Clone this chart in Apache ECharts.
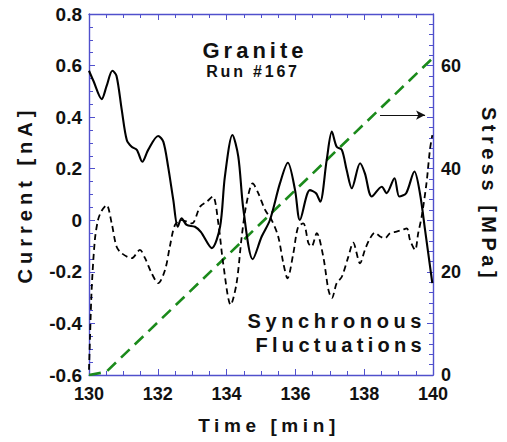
<!DOCTYPE html>
<html>
<head>
<meta charset="utf-8">
<title>Granite Run #167</title>
<script src="https://cdn.jsdelivr.net/npm/echarts@6.0.0/dist/echarts.min.js"></script>
<style>
  html, body { margin: 0; padding: 0; background: #fff; }
  #chart { width: 507px; height: 442px; }
</style>
</head>
<body>
<div id="chart"></div>
<script>
// Current record (solid), its mirrored fluctuation trace (dashed) and the stress ramp (green)

const solidTime = [130.0, 130.13, 130.37, 130.51, 130.68, 130.8, 130.95, 131.1, 131.24, 131.39,
  131.55, 131.72, 132.01, 132.16, 132.3, 132.45, 132.58, 132.69, 132.84, 133.08,
  133.25, 133.57, 133.81, 133.95, 134.17, 134.34, 134.49, 134.76, 135.02, 135.26,
  135.55, 135.78, 135.99, 136.13, 136.42, 136.6, 136.72, 136.91, 137.06, 137.2,
  137.35, 137.49, 137.64, 137.88, 138.02, 138.22, 138.51, 138.65, 138.88, 139.02,
  139.22, 139.46, 139.62, 139.77, 139.98];
const solidCurrent = [0.58, 0.54, 0.47, 0.52, 0.58, 0.56, 0.43, 0.31, 0.285, 0.273,
  0.227, 0.273, 0.327, 0.305, 0.208, 0.079, -0.025, 0.008, -0.018, -0.025,
  -0.045, -0.108, -0.025, 0.169, 0.331, 0.247, 0.04, -0.151, -0.063, 0.001,
  0.143, 0.223, 0.117, 0.001, 0.117, 0.105, 0.072, 0.234, 0.344, 0.285,
  0.273, 0.195, 0.124, 0.221, 0.182, 0.092, 0.13, 0.105, 0.163, 0.092,
  0.105, 0.189, 0.105, -0.038, -0.244];

const dashTime = [130.0, 130.03, 130.08, 130.17, 130.26, 130.36, 130.51, 130.66, 130.8, 130.95,
  131.24, 131.48, 131.63, 131.82, 132.01, 132.21, 132.35, 132.5, 132.69, 132.99,
  133.23, 133.42, 133.6, 133.76, 133.9, 134.12, 134.29, 134.44, 134.58, 134.76,
  134.92, 135.12, 135.31, 135.5, 135.65, 135.77, 135.94, 136.08, 136.23, 136.38,
  136.47, 136.62, 136.81, 136.96, 137.06, 137.2, 137.35, 137.54, 137.68, 137.88,
  138.02, 138.17, 138.31, 138.46, 138.6, 138.75, 138.94, 139.09, 139.24, 139.33,
  139.48, 139.57, 139.67, 139.81, 139.91, 139.98];
const dashCurrent = [-0.58, -0.45, -0.26, -0.077, 0.0, 0.035, 0.059, -0.012, -0.102, -0.128,
  -0.147, -0.115, -0.147, -0.205, -0.244, -0.193, -0.102, -0.018, 0.001, -0.012,
  0.053, 0.072, 0.092, -0.012, -0.167, -0.328, -0.244, -0.063, 0.066, 0.143,
  0.105, 0.04, 0.001, -0.063, -0.167, -0.225, -0.128, -0.025, -0.012, -0.089,
  -0.102, -0.05, -0.141, -0.27, -0.302, -0.244, -0.219, -0.141, -0.087, -0.167,
  -0.115, -0.07, -0.048, -0.063, -0.07, -0.05, -0.044, -0.038, -0.031, -0.076,
  -0.115, -0.05, 0.014, 0.143, 0.273, 0.33];

const stressTime = [130.0, 130.5, 140.0];
const stressMPa = [0, 0.6, 61.5];

// arrow pointing from the stress ramp to the right axis
const arrowTime = [138.46, 139.77];
const arrowStress = 50.4;

const axisBlue = '#5050cc';
const labelFont = '"Liberation Sans", Arial, sans-serif';

function zip(xs, ys) {
  return xs.map((x, i) => [x, ys[i]]);
}

// fresh objects for every axis, so nothing is shared between axis models
const frameLine = () => ({ show: true, onZero: false, lineStyle: { color: axisBlue, width: 1.4 } });
const majorTick = () => ({ show: true, inside: true, length: 6, lineStyle: { color: axisBlue, width: 1 } });
const minor = n => ({ show: true, splitNumber: n, length: 4, lineStyle: { color: axisBlue, width: 1 } });

const chart = echarts.init(document.getElementById('chart'), null, { renderer: 'svg' });

chart.setOption({
  animation: false,
  grid: { left: 89, right: 74, top: 14, bottom: 67 },
  xAxis: [
    {
      type: 'value', min: 130, max: 140, interval: 2,
      name: 'Time [min]', nameLocation: 'middle', nameGap: 41,
      nameTextStyle: { fontFamily: labelFont, fontWeight: 'bold', fontSize: 19, color: '#111', padding: [0, 0, 0, 16] },
      axisLine: frameLine(),
      axisTick: majorTick(),
      minorTick: minor(4),
      splitLine: { show: false },
      axisLabel: { fontFamily: labelFont, fontWeight: 'bold', fontSize: 18, color: '#111', margin: 10 }
    },
    {
      type: 'value', position: 'top', min: 130, max: 140, interval: 2,
      axisLine: frameLine(),
      axisTick: majorTick(),
      minorTick: minor(4),
      splitLine: { show: false },
      axisLabel: { show: false }
    }
  ],
  yAxis: [
    {
      type: 'value', min: -0.6, max: 0.8, interval: 0.2,
      name: 'Current [nA]', nameLocation: 'middle', nameGap: 54, nameRotate: 90,
      nameTextStyle: { fontFamily: labelFont, fontWeight: 'bold', fontSize: 20, color: '#111' },
      axisLine: frameLine(),
      axisTick: majorTick(),
      minorTick: minor(4),
      splitLine: { show: false },
      axisLabel: {
        fontFamily: labelFont, fontWeight: 'bold', fontSize: 19, color: '#111', margin: 7,
        formatter: v => (Math.abs(v) < 1e-9 ? '0' : v.toFixed(1))
      }
    },
    {
      type: 'value', min: 0, max: 70, interval: 10, position: 'right',
      name: 'Stress [MPa]', nameLocation: 'middle', nameGap: 46, nameRotate: -90,
      nameTextStyle: { fontFamily: labelFont, fontWeight: 'bold', fontSize: 20, color: '#111' },
      axisLine: frameLine(),
      axisTick: majorTick(),
      minorTick: minor(5),
      splitLine: { show: false },
      axisLabel: {
        fontFamily: labelFont, fontWeight: 'bold', fontSize: 18, color: '#111', margin: 8,
        formatter: v => (v % 20 === 0 ? String(v) : '')
      }
    }
  ],
  series: [
    {
      name: 'Stress', type: 'line', yAxisIndex: 1, data: zip(stressTime, stressMPa),
      showSymbol: false,
      lineStyle: { color: '#1b8a1b', width: 2.6, type: [12, 7] },
      markLine: {
        silent: true, symbol: ['none', 'arrow'], symbolSize: [7, 9],
        label: { show: false },
        lineStyle: { color: '#111', width: 1, type: 'solid' },
        data: [[
          { coord: [arrowTime[0], arrowStress] },
          { coord: [arrowTime[1], arrowStress] }
        ]]
      }
    },
    {
      name: 'Current', type: 'line', data: zip(solidTime, solidCurrent),
      showSymbol: false, smooth: 0.3,
      lineStyle: { color: '#000', width: 2.1 }
    },
    {
      name: 'Fluctuation', type: 'line', data: zip(dashTime, dashCurrent),
      showSymbol: false, smooth: 0.3,
      lineStyle: { color: '#000', width: 1.8, type: [6, 4] }
    }
  ],
  graphic: [
    { type: 'text', x: 255, y: 50, style: { text: 'Granite', font: 'bold 22px ' + labelFont, fill: '#111', align: 'center', verticalAlign: 'middle' } },
    { type: 'text', x: 253, y: 71, style: { text: 'Run #167', font: 'bold 16px ' + labelFont, fill: '#111', align: 'center', verticalAlign: 'middle' } },
    { type: 'text', x: 426, y: 321, style: { text: 'Synchronous', font: 'bold 20px ' + labelFont, fill: '#111', align: 'right', verticalAlign: 'middle' } },
    { type: 'text', x: 426, y: 345, style: { text: 'Fluctuations', font: 'bold 20px ' + labelFont, fill: '#111', align: 'right', verticalAlign: 'middle' } }
  ]
});

// wide letter tracking like the original lettering
const tracking = {
  'Granite': 4, 'Run #167': 2.8, 'Synchronous': 4.6, 'Fluctuations': 4.3,
  'Time [min]': 4.6, 'Current [nA]': 5, 'Stress [MPa]': 4.5
};
function applyTracking() {
  document.querySelectorAll('#chart text').forEach(t => {
    const s = tracking[t.textContent.trim()];
    if (s) t.style.letterSpacing = s + 'px';
  });
}
chart.on('finished', applyTracking);
applyTracking();
setTimeout(applyTracking, 50);
</script>
</body>
</html>
